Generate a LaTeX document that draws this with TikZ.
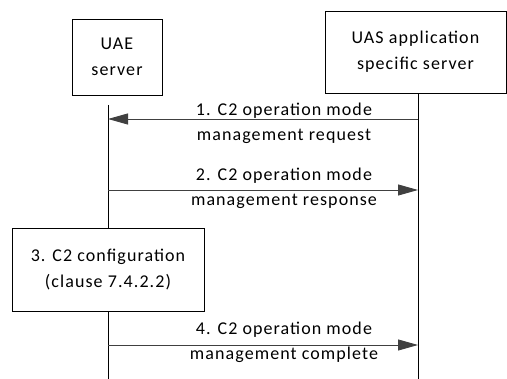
\documentclass[tikz,border=0pt]{standalone}
\usepackage{fontspec}
\setmainfont{Carlito}[LetterSpace=6]
\usetikzlibrary{arrows.meta}
\definecolor{ln}{HTML}{404040}
\begin{document}
\begin{tikzpicture}[x=1pt,y=-1pt,
  ent/.style={draw=black,line width=0.8pt,align=center,inner sep=0pt,font=\fontsize{18}{26}\selectfont},
  lbl/.style={align=center,font=\fontsize{18}{25}\selectfont,inner sep=0pt},
  life/.style={draw=black,line width=0.8pt},
  msg/.style={draw=ln,line width=0.9pt,-{Triangle[length=20pt,width=11pt]}}]
\useasboundingbox (0,0) rectangle (507,379);
\node[ent,minimum width=90pt,minimum height=76pt] (uae) at (117,57) {UAE\\server};
\node[ent,minimum width=181pt,minimum height=82pt] (uas) at (415.5,52) {UAS application\\specific server};
\coordinate (uaetop) at (108,105);
\coordinate (uastop) at (418,93);
\coordinate (uaebot) at (108,379);
\coordinate (uasbot) at (418,379);
\node[ent,minimum width=192pt,minimum height=83pt] (cfg) at (108,269.5) {3. C2 configuration\\(clause 7.4.2.2)};
\draw[life] (uaetop) -- (cfg.north);
\draw[life] (cfg.south) -- (uaebot);
\draw[life] (uas.south -| uastop) -- (uasbot);
\coordinate (a1s) at (418,119); \coordinate (a1e) at (108,119);
\coordinate (a2s) at (108,190); \coordinate (a2e) at (418,190);
\coordinate (a4s) at (108,345); \coordinate (a4e) at (418,345);
\draw[msg] (a1s) -- (a1e);
\draw[msg] (a2s) -- (a2e);
\draw[msg] (a4s) -- (a4e);
\node[lbl] (l1) at (284,123) {1. C2 operation mode\\management request};
\node[lbl] (l2) at (284,188) {2. C2 operation mode\\management response};
\node[lbl] (l4) at (284,342) {4. C2 operation mode\\management complete};
\end{tikzpicture}
\end{document}
